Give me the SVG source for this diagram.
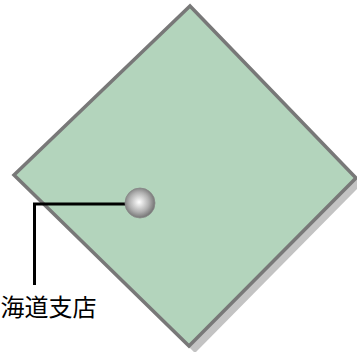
<svg xmlns="http://www.w3.org/2000/svg" width="357" height="352" viewBox="0 0 357 352">
<defs>
<radialGradient id="ball" cx="0.47" cy="0.47" r="0.55">
<stop offset="0" stop-color="#ffffff"/>
<stop offset="0.6" stop-color="#b0b0b0"/>
<stop offset="1" stop-color="#6e6e6e"/>
</radialGradient>
</defs>
<style>
.shadow{fill:#c3c3c3;stroke:none}
.region{fill:#b3d4bc;stroke:#787878;stroke-width:3.5;stroke-linejoin:miter}
.leader{fill:none;stroke:#000;stroke-width:3}
.label{font-family:"Noto Sans CJK JP","Noto Sans",sans-serif;font-size:24px;fill:#000}
</style>
<g id="region">
<polygon class="shadow" points="196,12 362,184 195,353 20,181"/>
<polygon class="region" points="190,6 356,178 189,346 14,175"/>
</g>
<g id="connectors">
<polyline class="leader" points="126,204 34.5,204 34.5,285"/>
</g>
<g id="marker">
<circle cx="140" cy="203" r="15" fill="url(#ball)" stroke="#888" stroke-width="0.8"/>
</g>
<g id="label">
<text class="label" x="0.5" y="316">海道支店</text>
</g>
</svg>
